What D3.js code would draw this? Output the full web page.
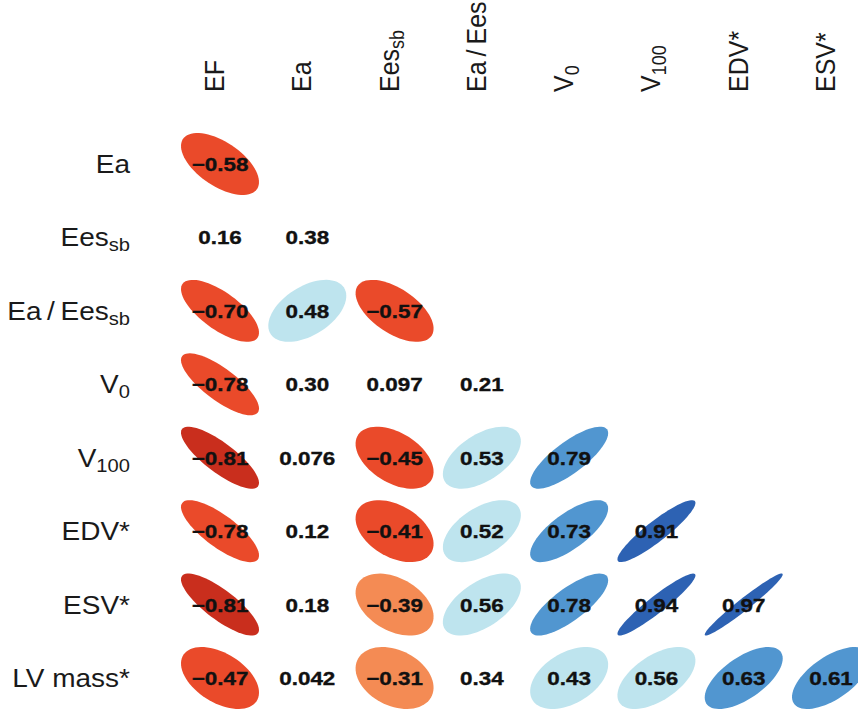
<!DOCTYPE html>
<html>
<head>
<meta charset="utf-8">
<script src="https://cdn.jsdelivr.net/npm/d3@7"></script>
<style>
  html, body { margin: 0; padding: 0; background: #fff; }
  svg { display: block; }
  text { font-family: "Liberation Sans", Arial, Helvetica, sans-serif; fill: #1a1a1a; }
</style>
</head>
<body>
<svg id="chart" width="858" height="710"></svg>
<script>
// Variable names (columns across the top, rows down the left)
const colKeys = ["EF", "Ea", "Ees_sb", "Ea/Ees", "V0", "V100", "EDV*", "ESV*"];
const rowKeys = ["Ea", "Ees_sb", "Ea/Ees_sb", "V0", "V100", "EDV*", "ESV*", "LV mass*"];

// Label pieces: main text, subscript
const colMain = ["EF", "Ea", "Ees", "Ea\u2009/\u2009Ees", "V", "V", "EDV*", "ESV*"];
const colSub  = ["",   "",   "sb",  "",                 "0", "100", "",   ""];
const rowMain = ["Ea", "Ees", "Ea\u2009/\u2009Ees", "V", "V", "EDV*", "ESV*", "LV mass*"];
const rowSub  = ["",   "sb",  "sb",                 "0", "100", "",   "",     ""];

// Lower-triangle correlation coefficients, one array per row
const rEa      = [-0.58];
const rEes     = [0.16, 0.38];
const rEaEes   = [-0.70, 0.48, -0.57];
const rV0      = [-0.78, 0.30, 0.097, 0.21];
const rV100    = [-0.81, 0.076, -0.45, 0.53, 0.79];
const rEDV     = [-0.78, 0.12, -0.41, 0.52, 0.73, 0.91];
const rESV     = [-0.81, 0.18, -0.39, 0.56, 0.78, 0.94, 0.97];
const rLVmass  = [-0.47, 0.042, -0.31, 0.34, 0.43, 0.56, 0.63, 0.61];
const corrRows = [rEa, rEes, rEaEes, rV0, rV100, rEDV, rESV, rLVmass];

// Which coefficients are significant (drawn with an ellipse)
const sEa      = [1];
const sEes     = [0, 0];
const sEaEes   = [1, 1, 1];
const sV0      = [1, 0, 0, 0];
const sV100    = [1, 0, 1, 1, 1];
const sEDV     = [1, 0, 1, 1, 1, 1];
const sESV     = [1, 0, 1, 1, 1, 1, 1];
const sLVmass  = [1, 0, 1, 0, 1, 1, 1, 1];
const sigRows  = [sEa, sEes, sEaEes, sV0, sV100, sEDV, sESV, sLVmass];

// Colour bins for the coefficient
const binEdges  = [-0.8, -0.4, -0.2, 0, 0.2, 0.6, 0.8];
const binColors = ["#c92e1d", "#ea4a2a", "#f48b54", "#fbc7a4", "#dcf0f5", "#bee4ee", "#5196d0", "#2d62b3"];

const svg = d3.select("#chart");

const x = d3.scalePoint().domain(colKeys).range([220, 831]);
const y = d3.scalePoint().domain(rowKeys).range([164, 678]);
const color = d3.scaleThreshold().domain(binEdges).range(binColors);

const rx = 39, ry = 31;     // half extents of an ellipse's bounding box
const stretch = 1.12;       // horizontal text stretch

const cells = [];
corrRows.forEach((vals, i) => {
  vals.forEach((r, j) => {
    cells.push({ row: rowKeys[i], col: colKeys[j], r, sig: sigRows[i][j] === 1 });
  });
});

// Ellipse with coordinate correlation r: (cos(t + d/2), cos(t - d/2)), d = acos(r)
const ts = d3.range(0, 72).map(k => k / 72 * 2 * Math.PI);
function ellipsePath(d) {
  const cx = x(d.col), cy = y(d.row);
  const dd = Math.acos(d.r);
  const line = d3.line()
    .x(t => cx + rx * Math.cos(t + dd / 2))
    .y(t => cy - ry * Math.cos(t - dd / 2))
    .curve(d3.curveLinearClosed);
  return line(ts);
}

svg.append("g").selectAll("path")
  .data(cells.filter(d => d.sig))
  .join("path")
  .attr("d", ellipsePath)
  .attr("fill", d => color(d.r));

const fmt = d3.format(".2r");
svg.append("g").selectAll("text")
  .data(cells)
  .join("text")
  .attr("transform", d => `translate(${x(d.col)},${y(d.row) + 7}) scale(1.18,1)`)
  .attr("text-anchor", "middle")
  .attr("font-size", 19)
  .attr("font-weight", "bold")
  .style("fill", "#111")
  .style("stroke", "#111")
  .style("stroke-width", 0.35)
  .text(d => fmt(d.r));

// Row labels, right aligned
const rowG = svg.append("g");
rowKeys.forEach((k, i) => {
  const t = rowG.append("text")
    .attr("transform", `translate(130,${y(k) + 9}) scale(${stretch},1)`)
    .attr("text-anchor", "end")
    .attr("font-size", 25);
  t.append("tspan").text(rowMain[i]);
  if (rowSub[i]) {
    t.append("tspan").attr("font-size", 18).attr("dy", 5).text(rowSub[i]);
  }
});

// Column labels, rotated
const colG = svg.append("g");
colKeys.forEach((k, j) => {
  const t = colG.append("text")
    .attr("transform", `translate(${x(k) + 4},92) rotate(-90) scale(1,${stretch})`)
    .attr("text-anchor", "start")
    .attr("font-size", 25);
  t.append("tspan").text(colMain[j]);
  if (colSub[j]) {
    t.append("tspan").attr("font-size", 18).attr("dy", 5).text(colSub[j]);
  }
});
</script>
</body>
</html>
